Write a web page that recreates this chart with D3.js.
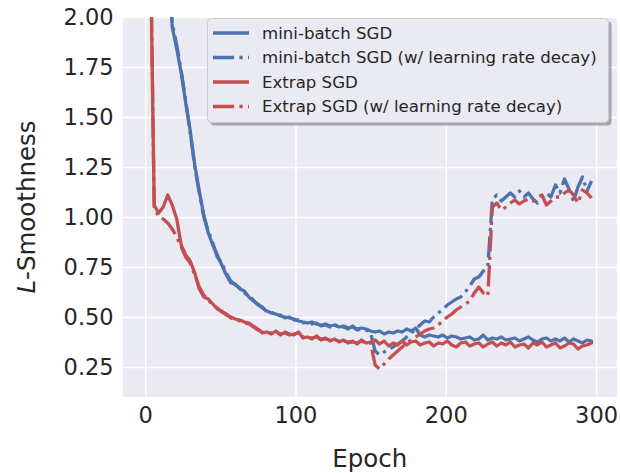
<!DOCTYPE html>
<html>
<head>
<meta charset="utf-8">
<script src="https://cdn.jsdelivr.net/npm/d3@7"></script>
<style>
  html, body { margin: 0; padding: 0; background: #ffffff; }
  svg { display: block; font-family: "DejaVu Sans", sans-serif; }
</style>
</head>
<body>
<svg id="chart" width="620" height="473"></svg>
<script>
// Epochs sampled every 3 epochs over a 300-epoch run
const epochs = d3.range(0, 300, 3);

const miniBatch = [
  6.0, 5.0, 4.2, 3.5, 2.9, 2.3, 1.95, 1.84, 1.72, 1.57,
  1.43, 1.26, 1.13, 1.01, 0.92, 0.86, 0.81, 0.76, 0.71, 0.67,
  0.665, 0.64, 0.63, 0.60, 0.58, 0.565, 0.545, 0.53, 0.52, 0.515,
  0.505, 0.50, 0.495, 0.49, 0.48, 0.475, 0.47, 0.475, 0.465, 0.46,
  0.465, 0.455, 0.46, 0.45, 0.455, 0.445, 0.45, 0.44, 0.445, 0.44,
  0.43, 0.425, 0.43, 0.415, 0.425, 0.42, 0.43, 0.425, 0.44, 0.43,
  0.445, 0.41, 0.40, 0.41, 0.405, 0.40, 0.41, 0.395, 0.405, 0.40,
  0.39, 0.395, 0.40, 0.385, 0.39, 0.41, 0.385, 0.395, 0.39, 0.40,
  0.385, 0.39, 0.395, 0.38, 0.39, 0.40, 0.385, 0.375, 0.39, 0.395,
  0.38, 0.39, 0.38, 0.395, 0.375, 0.39, 0.38, 0.37, 0.385, 0.38
];

const miniBatchDecay = [
  6.1, 5.1, 4.3, 3.6, 3.0, 2.35, 1.97, 1.86, 1.73, 1.58,
  1.42, 1.25, 1.12, 1.00, 0.93, 0.87, 0.80, 0.77, 0.72, 0.68,
  0.66, 0.645, 0.62, 0.605, 0.585, 0.56, 0.55, 0.525, 0.525, 0.51,
  0.51, 0.495, 0.50, 0.485, 0.485, 0.47, 0.475, 0.465, 0.47, 0.455,
  0.46, 0.45, 0.465, 0.445, 0.45, 0.44, 0.455, 0.435, 0.44, 0.435,
  0.42, 0.33, 0.31, 0.325, 0.34, 0.35, 0.365, 0.38, 0.40, 0.42,
  0.44, 0.46, 0.48, 0.475, 0.50, 0.52, 0.535, 0.56, 0.575, 0.59,
  0.60, 0.625, 0.655, 0.69, 0.70, 0.73, 0.75, 1.09, 1.11, 1.08,
  1.10, 1.12, 1.10, 1.13, 1.10, 1.12, 1.09, 1.07, 1.10, 1.12,
  1.10, 1.16, 1.12, 1.19, 1.14, 1.08, 1.15, 1.20, 1.13, 1.18
];

const extrap = [
  7.0, 2.6, 1.06, 1.02, 1.05, 1.11, 1.06, 0.99, 0.86, 0.81,
  0.78, 0.72, 0.64, 0.60, 0.59, 0.565, 0.54, 0.53, 0.51, 0.50,
  0.49, 0.485, 0.475, 0.47, 0.455, 0.44, 0.42, 0.425, 0.415, 0.43,
  0.41, 0.425, 0.415, 0.41, 0.425, 0.395, 0.40, 0.39, 0.405, 0.385,
  0.395, 0.38, 0.39, 0.375, 0.385, 0.37, 0.38, 0.365, 0.385, 0.37,
  0.375, 0.385, 0.365, 0.38, 0.355, 0.37, 0.36, 0.38, 0.36, 0.375,
  0.38, 0.36, 0.37, 0.375, 0.355, 0.37, 0.365, 0.38, 0.36, 0.35,
  0.37, 0.375, 0.355, 0.365, 0.37, 0.35, 0.365, 0.375, 0.355, 0.37,
  0.36, 0.375, 0.35, 0.36, 0.365, 0.345, 0.37, 0.36, 0.375, 0.35,
  0.36, 0.37, 0.345, 0.355, 0.37, 0.365, 0.34, 0.355, 0.36, 0.37
];

const extrapDecay = [
  7.1, 2.7, 1.05, 1.00, 0.99, 0.97, 0.94, 0.90, 0.85, 0.80,
  0.77, 0.71, 0.65, 0.61, 0.585, 0.56, 0.545, 0.525, 0.515, 0.495,
  0.49, 0.48, 0.47, 0.465, 0.45, 0.435, 0.425, 0.42, 0.42, 0.425,
  0.415, 0.42, 0.41, 0.415, 0.42, 0.40, 0.395, 0.395, 0.40, 0.39,
  0.39, 0.385, 0.385, 0.38, 0.38, 0.375, 0.375, 0.37, 0.38, 0.365,
  0.37, 0.26, 0.24, 0.265, 0.29, 0.31, 0.33, 0.35, 0.37, 0.385,
  0.40, 0.415, 0.43, 0.44, 0.445, 0.46, 0.48, 0.50, 0.515, 0.535,
  0.55, 0.565, 0.58, 0.62, 0.65, 0.62, 0.605, 1.05, 1.07, 1.035,
  1.05, 1.07, 1.085, 1.065, 1.08, 1.09, 1.08, 1.10, 1.11, 1.06,
  1.08, 1.10, 1.10, 1.12, 1.135, 1.11, 1.07, 1.135, 1.12, 1.095
];

const seriesNames = [
  "mini-batch SGD",
  "mini-batch SGD (w/ learning rate decay)",
  "Extrap SGD",
  "Extrap SGD (w/ learning rate decay)"
];
const seriesValues = [miniBatch, miniBatchDecay, extrap, extrapDecay];
const seriesColors = ["#4C72B0", "#4C72B0", "#C44E52", "#C44E52"];
const seriesDashed = [false, true, false, true];

const xTicks = [0, 100, 200, 300];
const yTicks = [0.25, 0.50, 0.75, 1.00, 1.25, 1.50, 1.75, 2.00];
const xLabel = "Epoch";
const yLabelItalic = "L";
const yLabelRest = "-Smoothness";

// ---- layout ----
const plot = { left: 122.7, top: 17, right: 617, bottom: 397 };
const lw = 3.3;
const dashDot = [6.4 * lw, 1.6 * lw, 1 * lw, 1.6 * lw].join(",");

const svg = d3.select("#chart");

const xExtent = [0, 299];
const xPad = (xExtent[1] - xExtent[0]) * 0.05;
const x = d3.scaleLinear()
  .domain([xExtent[0] - xPad, xExtent[1] + xPad])
  .range([plot.left, plot.right]);
const y = d3.scaleLinear()
  .domain([0.1, 2.0])
  .range([plot.bottom, plot.top]);

// plot background
svg.append("rect")
  .attr("x", plot.left).attr("y", plot.top)
  .attr("width", plot.right - plot.left)
  .attr("height", plot.bottom - plot.top)
  .attr("fill", "#EAEAF2");

svg.append("clipPath").attr("id", "plotClip")
  .append("rect")
  .attr("x", plot.left).attr("y", plot.top)
  .attr("width", plot.right - plot.left)
  .attr("height", plot.bottom - plot.top);

// grid + tick labels through d3 axes
const xAxis = d3.axisBottom(x).tickValues(xTicks).tickSize(-(plot.bottom - plot.top)).tickPadding(10).tickFormat(d3.format("d"));
const yAxis = d3.axisLeft(y).tickValues(yTicks).tickSize(-(plot.right - plot.left)).tickPadding(9).tickFormat(d3.format(".2f"));

const gx = svg.append("g").attr("transform", `translate(0,${plot.bottom})`).call(xAxis);
const gy = svg.append("g").attr("transform", `translate(${plot.left},0)`).call(yAxis);
[gx, gy].forEach(g => {
  g.select(".domain").remove();
  g.selectAll(".tick line").attr("stroke", "#ffffff").attr("stroke-width", 1.4);
  g.selectAll(".tick text")
    .attr("fill", "#262626")
    .style("font-size", "22.5px")
    .style("font-family", "'DejaVu Sans', sans-serif");
});
gx.selectAll(".tick text").attr("dy", "0.71em");

// lines
const line = d3.line()
  .x((d, i) => x(epochs[i]))
  .y(d => y(d));

const lines = svg.append("g").attr("clip-path", "url(#plotClip)");
seriesValues.forEach((vals, k) => {
  lines.append("path")
    .datum(vals)
    .attr("d", line)
    .attr("fill", "none")
    .attr("stroke", seriesColors[k])
    .attr("stroke-width", lw)
    .attr("stroke-linejoin", "round")
    .attr("stroke-linecap", seriesDashed[k] ? "butt" : "round")
    .attr("stroke-dasharray", seriesDashed[k] ? dashDot : null);
});

// axis labels
svg.append("text")
  .attr("x", (plot.left + plot.right) / 2)
  .attr("y", 467)
  .attr("text-anchor", "middle")
  .attr("fill", "#262626")
  .style("font-size", "24.5px")
  .text(xLabel);

const yl = svg.append("text")
  .attr("transform", `translate(35,${(plot.top + plot.bottom) / 2}) rotate(-90)`)
  .attr("text-anchor", "middle")
  .attr("fill", "#262626")
  .style("font-size", "24.5px");
yl.append("tspan").style("font-style", "italic").text(yLabelItalic);
yl.append("tspan").text(yLabelRest);

// legend
const leg = { x: 207.5, y: 18.5, w: 401, h: 104 };
svg.append("rect")
  .attr("x", leg.x + 3).attr("y", leg.y + 3)
  .attr("width", leg.w).attr("height", leg.h)
  .attr("rx", 4)
  .attr("fill", "#8e8e94").attr("fill-opacity", 0.75);
svg.append("rect")
  .attr("x", leg.x).attr("y", leg.y)
  .attr("width", leg.w).attr("height", leg.h)
  .attr("rx", 4)
  .attr("fill", "#EAEAF2")
  .attr("stroke", "#cccccc").attr("stroke-width", 1);

const rowY = [33, 57.5, 82, 106.5];
seriesNames.forEach((name, k) => {
  svg.append("line")
    .attr("x1", 213).attr("x2", 249)
    .attr("y1", rowY[k]).attr("y2", rowY[k])
    .attr("stroke", seriesColors[k])
    .attr("stroke-width", lw)
    .attr("stroke-dasharray", seriesDashed[k] ? dashDot : null);
  svg.append("text")
    .attr("x", 262).attr("y", rowY[k])
    .attr("dy", "0.36em")
    .attr("fill", "#262626")
    .style("font-size", "16.6px")
    .text(name);
});
</script>
</body>
</html>
